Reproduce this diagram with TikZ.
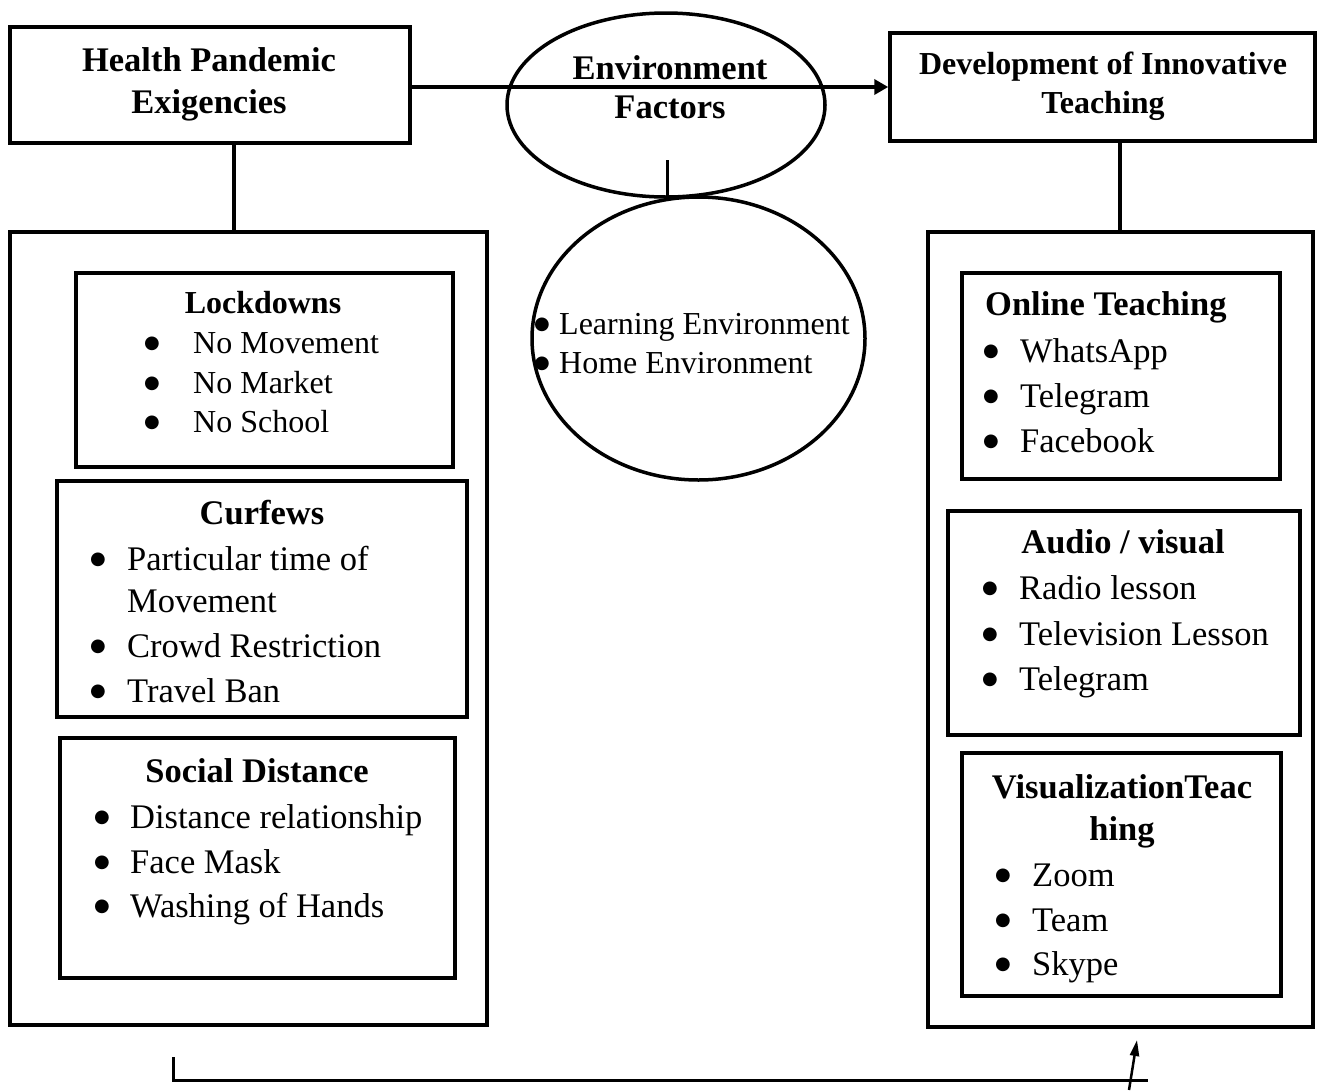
\documentclass[tikz,border=0pt]{standalone}
\usepackage{fontspec}
\setmainfont{Liberation Serif}
\newfontfamily\bulfont{DejaVu Sans}
\usetikzlibrary{arrows.meta,shapes.geometric}
\begin{document}
\begin{tikzpicture}[x=1pt,y=-1pt,
  bx/.style 2 args={draw,line width=3.5pt,inner sep=0pt,minimum width=#1,minimum height=#2},
  ov/.style 2 args={draw,ellipse,line width=3.5pt,inner sep=0pt,minimum width=#1,minimum height=#2},
  ln/.style={line width=3.5pt},
  hdL/.style={font=\bfseries\fontsize{34.5}{42}\selectfont,inner sep=0pt,anchor=base},
  hdS/.style={font=\bfseries\fontsize{32}{39}\selectfont,inner sep=0pt,anchor=base},
  itL/.style={font=\fontsize{34.5}{45}\selectfont,inner sep=0pt,anchor=base west},
  itS/.style={font=\fontsize{32}{39}\selectfont,inner sep=0pt,anchor=base west},
  bu/.style={font=\bulfont\fontsize{18}{18}\selectfont,inner sep=0pt,anchor=center}]
\useasboundingbox (0,0) rectangle (1320,1090);

% top row
\node[bx={400}{116}] (health) at (210,85) {};
\node[hdL] (th1) at (209,71) {Health Pandemic};
\node[hdL] (th2) at (209,113) {Exigencies};

\node[bx={425}{108}] (dev) at (1102.5,87) {};
\node[hdS] (td1) at (1103,74) {Development of Innovative};
\node[hdS] (td2) at (1103,113) {Teaching};

\coordinate (ay) at (0,87);
\draw[ln,-{Triangle[length=14pt,width=15pt]}] (health.east |- ay) -- (dev.west |- ay);

\node[ov={318}{184}] (env) at (666,105) {};
\node[hdL] (te1) at (670,79) {Environment};
\node[hdL] (te2) at (670,118) {Factors};

\node[ov={333}{283}] (envlist) at (698.5,338.5) {};
\node[bu] (eb1) at (542,325) {●};
\node[itS] (el1) at (559,334) {Learning Environment};
\node[bu] (eb2) at (542,364) {●};
\node[itS] (el2) at (559,373) {Home Environment};

\coordinate (envstem) at (667,160);
\draw[line width=3pt] (envstem) -- (667,198);

% left column
\node[bx={477}{793}] (lout) at (248.5,628.5) {};
\coordinate (hx) at (234,0);
\draw[ln] (health.south -| hx) -- (lout.north -| hx);

\node[bx={377}{194}] (lock) at (264.5,370) {};
\node[hdS] (tl0) at (263,313) {Lockdowns};
\node[bu] (lb1) at (152,344) {●};
\node[itS] (tl1) at (193,353) {No Movement};
\node[bu] (lb2) at (152,384) {●};
\node[itS] (tl2) at (193,393) {No Market};
\node[bu] (lb3) at (152,423) {●};
\node[itS] (tl3) at (193,432) {No School};

\node[bx={410}{236}] (curf) at (262,599) {};
\node[hdL] (tc0) at (262,524) {Curfews};
\node[bu] (cb1) at (98,560) {●};
\node[itL] (tc1) at (127,570) {Particular time of};
\node[itL] (tc1b) at (127,612) {Movement};
\node[bu] (cb2) at (98,647) {●};
\node[itL] (tc2) at (127,657) {Crowd Restriction};
\node[bu] (cb3) at (98,692) {●};
\node[itL] (tc3) at (127,702) {Travel Ban};

\node[bx={395}{240}] (soc) at (257.5,858) {};
\node[hdL] (ts0) at (257,782) {Social Distance};
\node[bu] (sb1) at (102,818) {●};
\node[itL] (ts1) at (130,828) {Distance relationship};
\node[bu] (sb2) at (102,863) {●};
\node[itL] (ts2) at (130,873) {Face Mask};
\node[bu] (sb3) at (102,907) {●};
\node[itL] (ts3) at (130,917) {Washing of Hands};

% right column
\node[bx={385}{795}] (rout) at (1120.5,629.5) {};
\coordinate (rx) at (1120,0);
\draw[ln] (dev.south -| rx) -- (rout.north -| rx);

\node[bx={318}{206}] (online) at (1121,376) {};
\node[hdL,anchor=base west] (to0) at (985,315) {Online Teaching};
\node[bu] (ob1) at (991,352) {●};
\node[itL] (to1) at (1020,362) {WhatsApp};
\node[bu] (ob2) at (991,397) {●};
\node[itL] (to2) at (1020,407) {Telegram};
\node[bu] (ob3) at (991,442) {●};
\node[itL] (to3) at (1020,452) {Facebook};

\node[bx={352}{224}] (audio) at (1124,623) {};
\node[hdL] (ta0) at (1123,553) {Audio / visual};
\node[bu] (ab1) at (990,589) {●};
\node[itL] (ta1) at (1019,599) {Radio lesson};
\node[bu] (ab2) at (990,635) {●};
\node[itL] (ta2) at (1019,645) {Television Lesson};
\node[bu] (ab3) at (990,680) {●};
\node[itL] (ta3) at (1019,690) {Telegram};

\node[bx={319}{243}] (visual) at (1121.5,874.5) {};
\node[hdL] (tv0) at (1122,798) {VisualizationTeac};
\node[hdL] (tv0b) at (1122,840) {hing};
\node[bu] (vb1) at (1003,876) {●};
\node[itL] (tv1) at (1032,886) {Zoom};
\node[bu] (vb2) at (1003,921) {●};
\node[itL] (tv2) at (1032,931) {Team};
\node[bu] (vb3) at (1003,965) {●};
\node[itL] (tv3) at (1032,975) {Skype};

% bottom connector
\coordinate (b1) at (173,1057);
\coordinate (b2) at (173,1080);
\coordinate (b3) at (1148,1080);
\draw[line width=3pt] (b1) -- (b2) -- (b3);
\coordinate (a1) at (1129,1090);
\coordinate (a2) at (1137,1040);
\draw[line width=2.5pt,-{Triangle[length=16pt,width=9pt]}] (a1) -- (a2);
\end{tikzpicture}
\end{document}
